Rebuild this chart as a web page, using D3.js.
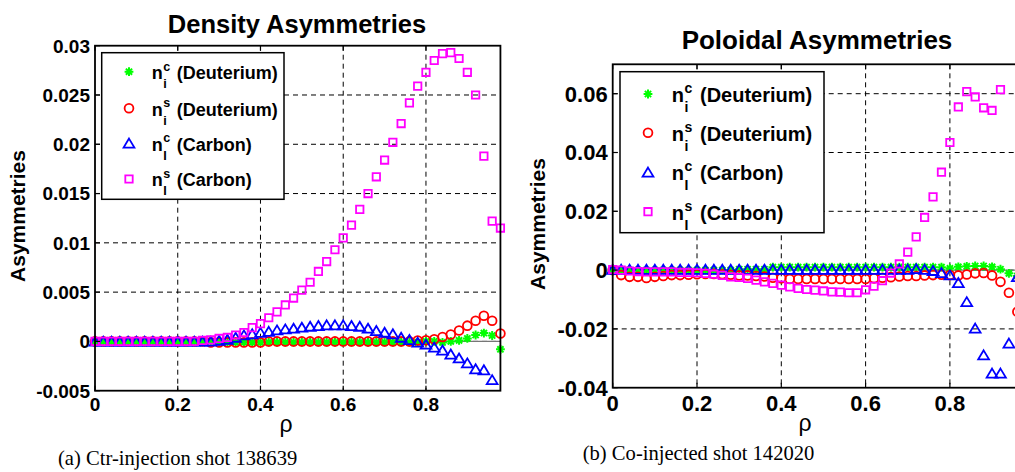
<!DOCTYPE html>
<html>
<head>
<meta charset="utf-8">
<script src="https://cdn.jsdelivr.net/npm/d3@7"></script>
<style>
  html, body { margin: 0; padding: 0; background: #fff; }
  svg { display: block; }
</style>
</head>
<body>
<div id="chart"></div>
<script>
// rho grid, shared by both shots
const rho = [0, 0.02, 0.04, 0.06, 0.08, 0.10, 0.12, 0.14, 0.16, 0.18,
  0.20, 0.22, 0.24, 0.26, 0.28, 0.30, 0.32, 0.34, 0.36, 0.38,
  0.40, 0.42, 0.44, 0.46, 0.48, 0.50, 0.52, 0.54, 0.56, 0.58,
  0.60, 0.62, 0.64, 0.66, 0.68, 0.70, 0.72, 0.74, 0.76, 0.78,
  0.80, 0.82, 0.84, 0.86, 0.88, 0.90, 0.92, 0.94, 0.96, 0.98];

// (a) Ctr-injection shot 138639 — density asymmetries
const ctrDeutC = [0, 0, 0, 0, 0, 0, 0, 0, 0, 0,
  0, 0, 0, 0, 0, -0.0001, -0.0001, -0.0001, -0.0001, -0.0001,
  -0.0001, -0.0001, -0.0001, -0.0001, -0.0001, -0.0001, -0.0001, -0.0001, -0.0001, -0.0001,
  -0.0001, -0.0001, -0.0001, -0.0001, -0.0001, -0.0001, -0.0001, -0.0001, -0.0001, -0.0001,
  0, 0, -0.0001, 0, 0.0001, 0.0003, 0.00065, 0.00085, 0.0006, -0.0008];
const ctrDeutS = [0, 0, 0, 0, 0, 0, 0, 0, 0, 0,
  0, 0, 0, 0, -0.0001, -0.0001, -0.0001, -0.0001, -0.0001, -0.0001,
  -0.0001, 0, 0, 0, 0, 0, 0, 0, 0, 0,
  0, 0, 0, 0, 0, 0, 0, 0, 0, 0.0001,
  0.00012, 0.00022, 0.00045, 0.0007, 0.0011, 0.0016, 0.0021, 0.0026, 0.0021, 0.0008];
const ctrCarbC = [0, 0, 0, 0, 0, 0, 0, 0, 0, 0,
  0, 0, 0, 0, 0, 0.0001, 0.0002, 0.0004, 0.00064, 0.00075,
  0.0009, 0.001, 0.00115, 0.00125, 0.00132, 0.00142, 0.00152, 0.00159, 0.00166, 0.00166,
  0.00166, 0.00159, 0.00152, 0.00132, 0.00108, 0.00091, 0.00075, 0.0004, 0.00017, -0.0001,
  -0.0003, -0.0006, -0.0009, -0.0013, -0.0017, -0.0022, -0.0028, -0.0029, -0.0039, null];
const ctrCarbS = [0, 0, 0, 0, 0, 0, 0, 0, 0, 0,
  0, 0, 0, 0.0001, 0.00015, 0.0003, 0.0004, 0.00065, 0.0009, 0.0014,
  0.0018, 0.0024, 0.003, 0.0037, 0.0044, 0.0052, 0.006, 0.0071, 0.0081, 0.0093,
  0.0105, 0.0118, 0.0134, 0.015, 0.0167, 0.0184, 0.0202, 0.0221, 0.0242, 0.0259,
  0.0273, 0.0285, 0.0292, 0.0293, 0.0287, 0.0273, 0.025, 0.0188, 0.0122, 0.0115];

// (b) Co-injected shot 142020 — poloidal asymmetries
const coDeutC = [0, 0, 0, 0, 0, 0, 0, 0, 0, 0,
  0, 0, 0, 0, 0, 0.0003, 0.0003, 0.0003, 0.0003, 0.001,
  0.001, 0.001, 0.001, 0.001, 0.001, 0.001, 0.001, 0.001, 0.001, 0.001,
  0.001, 0.001, 0.001, 0.001, 0.001, 0.001, 0.001, 0.001, 0.001, 0.001,
  0.0006, 0.0011, 0.0013, 0.0014, 0.0014, 0.0011, 0.0003, -0.0011, -0.002, null];
const coDeutS = [0, -0.0017, -0.0023, -0.0023, -0.0027, -0.0023, -0.002, -0.0017, -0.0017, -0.0016,
  -0.0014, -0.0013, -0.0013, -0.0014, -0.0016, -0.0018, -0.0018, -0.002, -0.0022, -0.0026,
  -0.0028, -0.003, -0.003, -0.003, -0.003, -0.003, -0.003, -0.003, -0.003, -0.003,
  -0.003, -0.0028, -0.0026, -0.0024, -0.0022, -0.002, -0.002, -0.0018, -0.0017, -0.0016,
  -0.0017, -0.0018, -0.0015, -0.0011, -0.001, -0.0018, -0.004, -0.0077, -0.0142, null];
const coCarbC = [0.0002, 0.0002, 0.0002, 0.0002, 0.0002, 0.0002, 0.0002, 0.0002, 0.0002, 0.0002,
  0.0002, 0.0002, 0.0002, 0.0002, 0.0002, 0.0002, 0.0002, 0.0002, 0.0002, 0.0002,
  0.0002, 0.0002, 0.0002, 0.0002, 0.0002, 0.0002, 0.0002, 0.0002, 0.0002, 0.0002,
  0.0002, 0.0002, 0.0002, 0.0002, 0.0002, 0.0002, 0.0004, 0.0002, -0.0002, -0.0009,
  -0.0017, -0.0043, -0.0108, -0.0198, -0.0289, -0.0351, -0.0351, -0.0249, -0.0023, null];
const coCarbS = [0.0002, 0, -0.0003, -0.0005, -0.0006, -0.0006, -0.0006, -0.0006, -0.0008, -0.0008,
  -0.0009, -0.0011, -0.0014, -0.0018, -0.0023, -0.0025, -0.0028, -0.0034, -0.004, -0.0045,
  -0.0051, -0.0057, -0.0062, -0.0066, -0.0068, -0.0071, -0.0074, -0.0075, -0.0077, -0.0077,
  -0.0067, -0.0055, -0.0036, -0.001, 0.0021, 0.0061, 0.0113, 0.0179, 0.0249, 0.0333,
  0.0434, 0.0555, 0.0607, 0.0589, 0.0552, 0.0543, 0.0614, null, null, null];

const xTicks = [0, 0.2, 0.4, 0.6, 0.8];
const ctrYTicks = [-0.005, 0, 0.005, 0.01, 0.015, 0.02, 0.025, 0.03];
const coYTicks = [-0.04, -0.02, 0, 0.02, 0.04, 0.06];

const seriesStyle = [
  { key: 'deutC', color: '#00ff00', marker: 'star', sup: 'c', sub: 'i', name: '(Deuterium)' },
  { key: 'deutS', color: '#ff0000', marker: 'circle', sup: 's', sub: 'i', name: '(Deuterium)' },
  { key: 'carbC', color: '#0000ff', marker: 'triangle', sup: 'c', sub: 'I', name: '(Carbon)' },
  { key: 'carbS', color: '#ff00ff', marker: 'square', sup: 's', sub: 'I', name: '(Carbon)' },
];

const W = 1015, H = 472;
const svg = d3.select('#chart').append('svg')
  .attr('width', W).attr('height', H)
  .attr('viewBox', `0 0 ${W} ${H}`);

const SANS = 'Liberation Sans, Arial, Helvetica, sans-serif';
const SERIF = 'Liberation Serif, Times New Roman, serif';

function markerPath(type) {
  switch (type) {
    case 'circle': return 'M4.4,0 A4.4,4.4 0 1,1 -4.4,0 A4.4,4.4 0 1,1 4.4,0 Z';
    case 'square': return 'M-3.7,-3.7 H3.7 V3.7 H-3.7 Z';
    case 'triangle': return 'M0,-4.7 L5.4,4.3 L-5.4,4.3 Z';
    case 'star': return 'M0,-4.4 V4.4 M-4.4,0 H4.4 M-3.1,-3.1 L3.1,3.1 M-3.1,3.1 L3.1,-3.1';
  }
}

function drawPanel(cfg) {
  const x = d3.scaleLinear().domain([0, 0.98]).range([cfg.left, cfg.left + 0.98 * cfg.pxPerUnit]);
  const y = d3.scaleLinear().domain(cfg.yDomain).range([cfg.bottom, cfg.top]);
  const g = svg.append('g');
  const right = x(0.98);

  // dashed grid
  g.append('g').selectAll('line.vg')
    .data(xTicks.filter(t => t > 0)).enter().append('line')
    .attr('x1', d => x(d)).attr('x2', d => x(d))
    .attr('y1', cfg.top).attr('y2', cfg.bottom)
    .attr('stroke', '#000').attr('stroke-width', 1).attr('stroke-dasharray', '5,4');
  g.append('g').selectAll('line.hg')
    .data(cfg.yTicks.filter(t => t > cfg.yDomain[0] && t < cfg.yDomain[1])).enter().append('line')
    .attr('x1', cfg.left).attr('x2', right)
    .attr('y1', d => y(d)).attr('y2', d => y(d))
    .attr('stroke', '#000').attr('stroke-width', 1).attr('stroke-dasharray', '5,4');

  // zero reference line
  g.append('line')
    .attr('x1', cfg.left).attr('x2', right)
    .attr('y1', y(0)).attr('y2', y(0))
    .attr('stroke', '#777').attr('stroke-width', 1.2);

  // markers
  seriesStyle.forEach(s => {
    const vals = cfg.data[s.key];
    const pts = rho.map((r, i) => ({ r, v: vals[i] })).filter(p => p.v !== null);
    g.append('g').selectAll('path')
      .data(pts).enter().append('path')
      .attr('d', markerPath(s.marker))
      .attr('transform', p => `translate(${x(p.r)},${y(p.v)})`)
      .attr('fill', 'none')
      .attr('stroke', s.color)
      .attr('stroke-width', s.marker === 'star' ? 2 : 1.8);
  });

  // axes box + inward ticks
  g.append('rect')
    .attr('x', cfg.left).attr('y', cfg.top)
    .attr('width', right - cfg.left).attr('height', cfg.bottom - cfg.top)
    .attr('fill', 'none').attr('stroke', '#000').attr('stroke-width', 1.8);

  const tl = 5;
  xTicks.forEach(t => {
    g.append('line').attr('x1', x(t)).attr('x2', x(t)).attr('y1', cfg.bottom).attr('y2', cfg.bottom - tl)
      .attr('stroke', '#000').attr('stroke-width', 1.2);
    g.append('line').attr('x1', x(t)).attr('x2', x(t)).attr('y1', cfg.top).attr('y2', cfg.top + tl)
      .attr('stroke', '#000').attr('stroke-width', 1.2);
  });
  cfg.yTicks.forEach(t => {
    g.append('line').attr('x1', cfg.left).attr('x2', cfg.left + tl).attr('y1', y(t)).attr('y2', y(t))
      .attr('stroke', '#000').attr('stroke-width', 1.2);
  });

  // tick labels
  g.append('g').selectAll('text')
    .data(xTicks).enter().append('text')
    .attr('x', d => x(d)).attr('y', cfg.bottom + cfg.tickFont + 1)
    .attr('text-anchor', 'middle')
    .attr('font-family', SANS).attr('font-weight', 'bold').attr('font-size', cfg.tickFont)
    .text(d => d === 0 ? '0' : d3.format('.1f')(d));
  g.append('g').selectAll('text')
    .data(cfg.yTicks).enter().append('text')
    .attr('x', cfg.left - 5).attr('y', d => y(d))
    .attr('dy', '0.36em')
    .attr('text-anchor', 'end')
    .attr('font-family', SANS).attr('font-weight', 'bold').attr('font-size', cfg.tickFont)
    .text(d => d === 0 ? '0' : String(+d.toFixed(3)));

  // title and axis labels
  g.append('text')
    .attr('x', cfg.titleX).attr('y', cfg.titleY)
    .attr('text-anchor', 'middle')
    .attr('font-family', SANS).attr('font-weight', 'bold').attr('font-size', cfg.titleFont)
    .text(cfg.title);
  g.append('text')
    .attr('transform', `translate(${cfg.yLabelX},${cfg.yLabelY}) rotate(-90)`)
    .attr('text-anchor', 'middle')
    .attr('font-family', SANS).attr('font-weight', 'bold').attr('font-size', 21)
    .text('Asymmetries');
  g.append('text')
    .attr('x', cfg.rhoX).attr('y', cfg.rhoY)
    .attr('text-anchor', 'middle')
    .attr('font-family', SANS).attr('font-size', 23)
    .text('ρ');

  // legend
  const L = cfg.legend;
  g.append('rect')
    .attr('x', L.x0).attr('y', L.y0).attr('width', L.x1 - L.x0).attr('height', L.y1 - L.y0)
    .attr('fill', '#fff').attr('stroke', '#000').attr('stroke-width', 1.5);
  seriesStyle.forEach((s, i) => {
    const cy = L.rows[i];
    g.append('path')
      .attr('d', markerPath(s.marker))
      .attr('transform', `translate(${L.mx},${cy})`)
      .attr('fill', 'none').attr('stroke', s.color)
      .attr('stroke-width', s.marker === 'star' ? 2 : 1.8);
    const base = cy + L.font * 0.4;
    const n = g.append('text')
      .attr('x', L.nx).attr('y', base)
      .attr('font-family', SANS).attr('font-weight', 'bold').attr('font-size', L.font)
      .text('n');
    const nw = n.node().getComputedTextLength();
    g.append('text')
      .attr('x', L.nx + nw + 0.5).attr('y', base - L.font * 0.45)
      .attr('font-family', SANS).attr('font-weight', 'bold').attr('font-size', L.font * 0.7)
      .text(s.sup);
    g.append('text')
      .attr('x', L.nx + nw + 0.5).attr('y', base + L.font * 0.5)
      .attr('font-family', SANS).attr('font-weight', 'bold').attr('font-size', L.font * 0.7)
      .text(s.sub);
    g.append('text')
      .attr('x', L.tx).attr('y', base)
      .attr('font-family', SANS).attr('font-weight', 'bold').attr('font-size', L.font)
      .text(s.name);
  });

  // caption
  svg.append('text')
    .attr('x', cfg.capX).attr('y', cfg.capY)
    .attr('font-family', SERIF).attr('font-size', 20.6)
    .text(cfg.caption);
}

drawPanel({
  left: 95, top: 45.7, bottom: 390.7, pxPerUnit: 413.7,
  yDomain: [-0.005, 0.03], yTicks: ctrYTicks, tickFont: 19,
  data: { deutC: ctrDeutC, deutS: ctrDeutS, carbC: ctrCarbC, carbS: ctrCarbS },
  title: 'Density Asymmetries', titleX: 297, titleY: 33, titleFont: 25.5,
  yLabelX: 25, yLabelY: 216, rhoX: 286, rhoY: 432,
  legend: { x0: 101.7, x1: 284, y0: 52.7, y1: 199.3, rows: [71.7, 108.3, 143.3, 179],
            mx: 129, nx: 151.7, tx: 176.7, font: 18 },
  caption: '(a) Ctr-injection shot 138639', capX: 58, capY: 465,
});

drawPanel({
  left: 612.7, top: 64.3, bottom: 387.7, pxPerUnit: 421.5,
  yDomain: [-0.04, 0.07], yTicks: coYTicks, tickFont: 22,
  data: { deutC: coDeutC, deutS: coDeutS, carbC: coCarbC, carbS: coCarbS },
  title: 'Poloidal Asymmetries', titleX: 817, titleY: 49, titleFont: 26,
  yLabelX: 545, yLabelY: 224, rhoX: 805, rhoY: 431,
  legend: { x0: 620, x1: 824, y0: 71.7, y1: 232.7, rows: [94, 132.7, 172.3, 211.7],
            mx: 648, nx: 671.7, tx: 700, font: 20 },
  caption: '(b) Co-injected shot 142020', capX: 582.7, capY: 460,
});
</script>
</body>
</html>
